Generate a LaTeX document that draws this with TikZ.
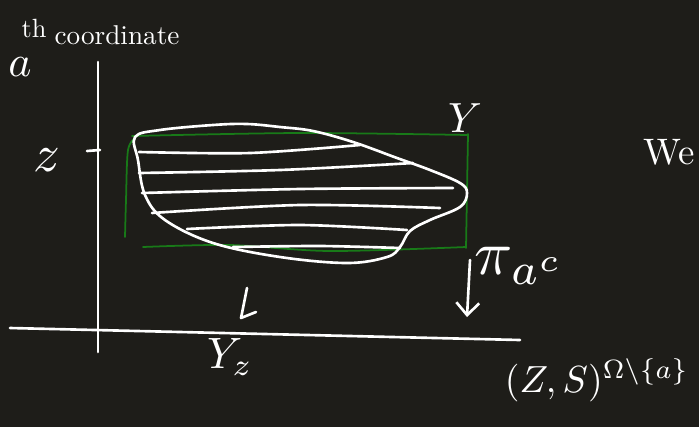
\documentclass[tikz,border=0pt]{standalone}
\usepackage{amsmath}
\usepackage{amssymb}
\usepackage{xcolor}
\usetikzlibrary{arrows.meta,positioning}
\definecolor{boardbg}{RGB}{30,29,25}
\definecolor{penfgreen}{RGB}{24,122,24}

\begin{document}
\begin{tikzpicture}[x=0.02cm, y=-0.02cm,
  >={Straight Barb[length=7pt,width=13pt]},
  chalk/.style={draw=white, line width=1.5pt, line cap=round, line join=round},
  greenpen/.style={draw=penfgreen, line width=1pt, line cap=round},
  hand/.style={text=white, inner sep=0pt}]
  \fill[boardbg] (0,0) rectangle (699,427);
  \useasboundingbox (0,0) rectangle (699,427);

  % axes
  \coordinate (vtop) at (98,62);
  \coordinate (vbot) at (98,352);
  \coordinate (hleft) at (10,328);
  \coordinate (hright) at (520,340);
  \draw[chalk] (vtop) -- (vbot);
  \draw[chalk] (hleft) -- (hright);
  \coordinate (tickl) at (87,151);
  \coordinate (tickr) at (100,150);
  \draw[chalk] (tickl) -- (tickr);

  % labels
  \node[hand, scale=2.5] (acoord) at (20,67) {$a$};
  \node[hand, scale=1.5] (thsup) at (34,28) {th};
  \node[hand, scale=1.55, anchor=west] (coordtext) at (54,35) {coordinate};
  \node[hand, scale=3] (zval) at (47,160) {$z$};
  \node[hand, scale=2.4] (ylab) at (465,118) {$Y$};
  \node[hand, scale=2.5] (yzlab) at (230,357) {$Y_{z}$};
  \node[hand, scale=3.6] (projlab) at (520,266) {$\pi_{a^{c}}$};
  \node[hand, scale=2.15] (spacelab) at (597,380) {$(Z,S)^{\Omega\setminus\{a\}}$};
  \node[hand, scale=2.1, anchor=west] (welab) at (643,152) {We};

  % green box
  \draw[greenpen] plot[smooth] coordinates {(132,136) (300,133) (468,135)};
  \draw[greenpen] plot[smooth] coordinates {(136,137) (128,150) (126,200) (125,237)};
  \draw[greenpen] (468,134) -- (466,248);
  \draw[greenpen] plot[smooth] coordinates {(143,247) (230,245) (330,251) (466,247)};

  % region
  \draw[chalk] plot[smooth cycle, tension=0.6] coordinates {
    (135,137) (160,130) (213,125) (247,124) (280,127) (313,131) (353,142)
    (397,158) (430,170) (460,183) (467,193) (460,207) (430,220) (410,231)
    (400,247) (387,257) (347,263) (280,257) (213,243) (165,220) (145,195)
    (138,160)};

  % hatching
  \draw[chalk] plot[smooth] coordinates {(139,152) (250,153) (360,145)};
  \draw[chalk] plot[smooth] coordinates {(139,173) (280,170) (413,163)};
  \draw[chalk] plot[smooth] coordinates {(142,193) (300,189) (453,188)};
  \draw[chalk] plot[smooth] coordinates {(152,213) (300,205) (440,208)};
  \draw[chalk] plot[smooth] coordinates {(187,229) (300,225) (407,230)};
  \draw[chalk] plot[smooth] coordinates {(233,247) (320,246) (400,248)};

  % projections
  \coordinate (pitop) at (470,260);
  \coordinate (pibot) at (467,317);
  \draw[chalk, ->] (pitop) -- (pibot);
  \coordinate (sltop) at (247,288);
  \coordinate (slbot) at (241,318);
  \coordinate (slhook) at (256,312);
  \draw[chalk] (sltop) -- (slbot) -- (slhook);
\end{tikzpicture}
\end{document}
